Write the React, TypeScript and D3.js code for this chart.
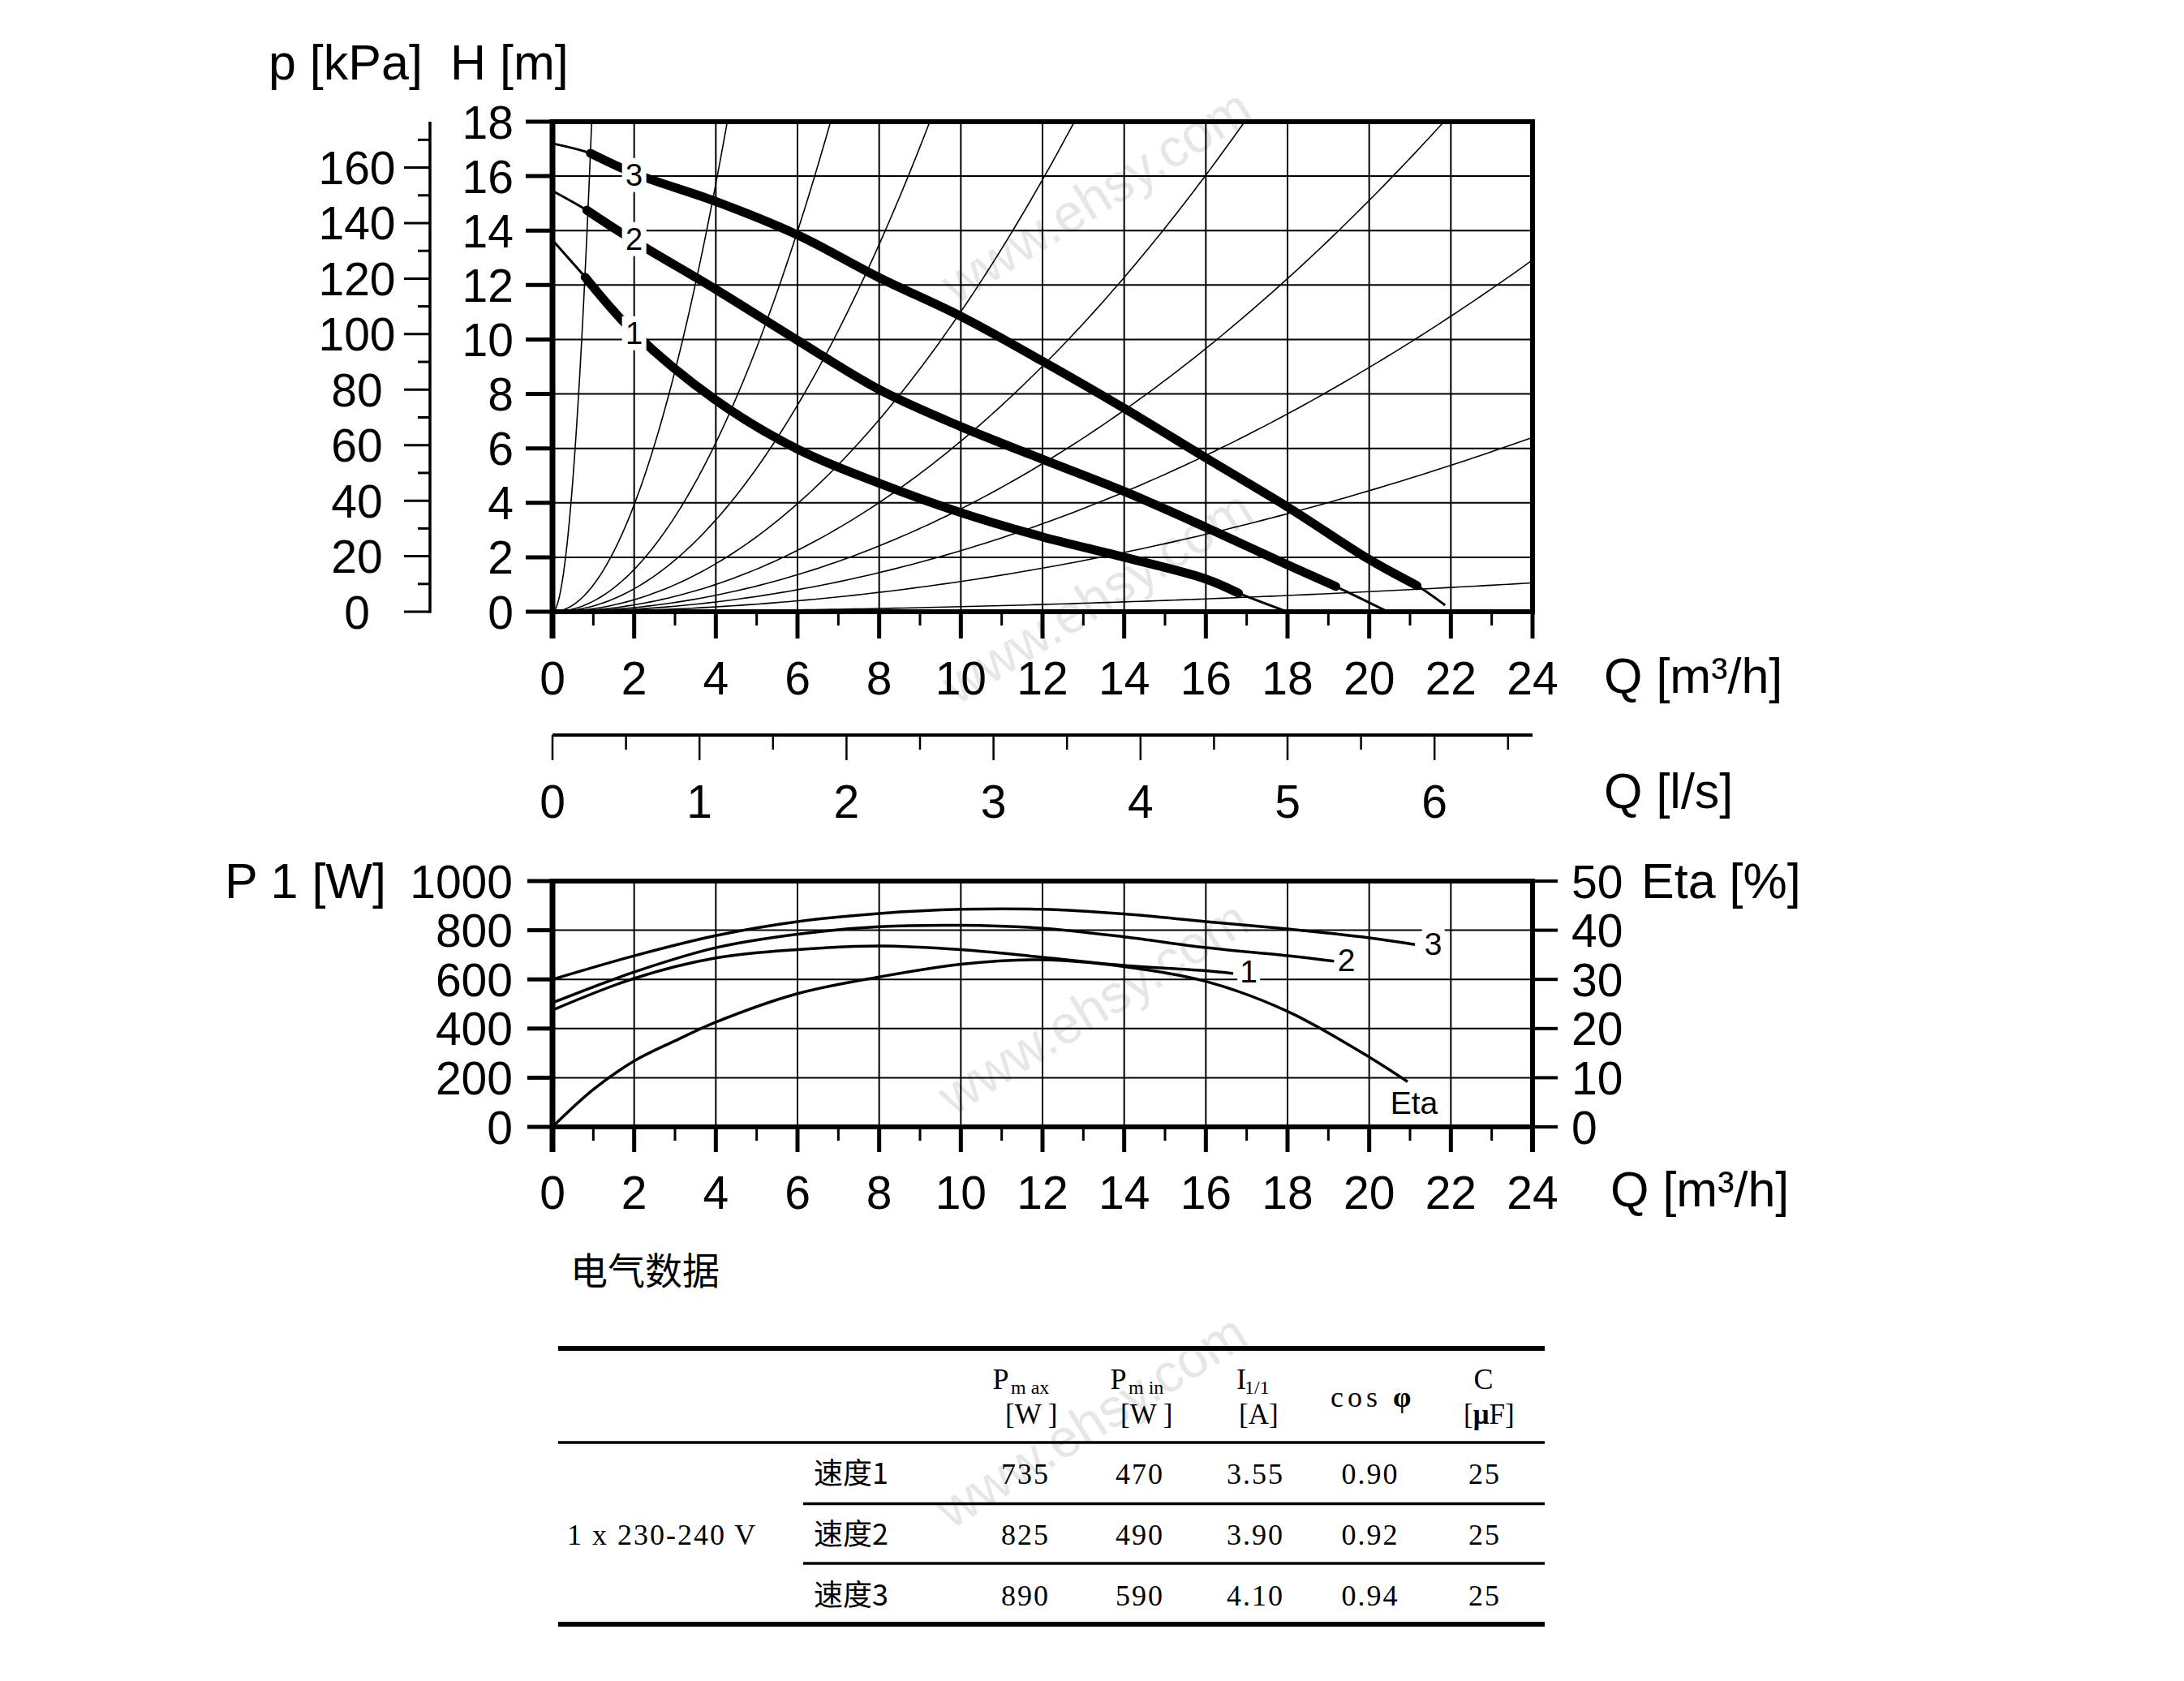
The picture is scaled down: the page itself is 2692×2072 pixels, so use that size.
import React from 'react';
import * as d3 from 'd3';

// ---------- data ----------
const qTickLabels = [0, 2, 4, 6, 8, 10, 12, 14, 16, 18, 20, 22, 24];
const headTickLabels = [0, 2, 4, 6, 8, 10, 12, 14, 16, 18];
const kpaTickLabels = [0, 20, 40, 60, 80, 100, 120, 140, 160];
const lsTickLabels = [0, 1, 2, 3, 4, 5, 6];
const powerTickLabels = [0, 200, 400, 600, 800, 1000];
const etaTickLabels = [0, 10, 20, 30, 40, 50];

// pump curves H(Q), Q in m3/h, H in m
const head1: [number, number][] = [[0, 13.65], [0.8, 12.29], [2, 10.25], [4, 7.77], [6, 5.97], [8, 4.72], [10, 3.64], [12, 2.75], [14, 2.0], [16, 1.2], [16.8, 0.68], [17.92, 0.04]];
const head2: [number, number][] = [[0, 15.46], [0.84, 14.75], [2, 13.62], [4, 11.84], [6, 9.97], [8, 8.16], [10, 6.8], [12, 5.6], [14, 4.42], [16, 3.1], [18, 1.72], [19.18, 0.93], [20.4, 0.04]];
const head3: [number, number][] = [[0, 17.2], [0.93, 16.84], [2, 16.1], [4, 15.07], [6, 13.84], [8, 12.27], [10, 10.85], [12, 9.2], [14, 7.47], [16, 5.65], [18, 3.85], [20, 1.92], [21.17, 0.96], [21.86, 0.24]];
const boldRanges: [number, number][] = [[0.8, 16.8], [0.84, 19.18], [0.93, 21.17]];
const headLabels = ['1', '2', '3'];
const headLabelPos: [number, number][] = [[2, 10.23], [2, 13.69], [2, 16.04]];

// system curves: point where each parabola leaves the frame [Q, H]
const systemCurveEnds: [number, number][] = [[0.96, 18], [4.28, 18], [6.81, 18], [9.24, 18], [12.78, 18], [16.95, 18], [21.83, 18], [24, 12.92], [24, 6.4], [24, 1.06]];

// power P1(Q) in W
const power1: [number, number][] = [[0, 475], [2, 604], [4, 687], [6, 721], [8, 736], [10, 721], [12, 690], [14, 657], [16, 635], [16.67, 624]];
const power2: [number, number][] = [[0, 505], [2, 630], [4, 729], [6, 784], [8, 814], [10, 820], [12, 808], [14, 773], [16, 729], [18, 696], [19.14, 674]];
const power3: [number, number][] = [[0, 600], [2, 696], [4, 778], [6, 835], [8, 868], [10, 885], [12, 885], [14, 866], [16, 835], [18, 805], [20, 769], [21.12, 742]];
// efficiency Eta(Q) in %
const etaCurve: [number, number][] = [[0, 0], [1, 7.6], [2, 13.4], [3, 17.5], [4, 21.3], [6, 27.1], [8, 30.5], [10, 33.1], [12, 34.0], [14, 32.6], [16, 29.6], [18, 23.5], [20, 14.2], [20.94, 9.2]];
const powerLabelPos: [number, number][] = [[17.05, 635], [19.44, 681], [21.57, 747]];

// electrical table
const tableTitle = '电气数据';
const voltageLabel = '1 x 230-240 V';
const speedLabels = ['速度1', '速度2', '速度3'];
const pMax = ['735', '825', '890'];
const pMin = ['470', '490', '590'];
const current = ['3.55', '3.90', '4.10'];
const cosPhi = ['0.90', '0.92', '0.94'];
const capacitance = ['25', '25', '25'];

// ---------- component ----------
const SANS = '"Liberation Sans", Arial, sans-serif';
const SERIF = '"Liberation Serif", "Times New Roman", serif';
const CJK = '"Noto Sans CJK SC", sans-serif';

export default function App() {
  const W = 2692, H = 2072;
  const x = d3.scaleLinear().domain([0, 24]).range([681, 1889]);
  const yH = d3.scaleLinear().domain([0, 18]).range([754, 150]);
  const yP = d3.scaleLinear().domain([0, 1000]).range([1389, 1086]);
  const yEta = d3.scaleLinear().domain([0, 50]).range([1389, 1086]);
  const KPA_PER_M = 9.807;
  const M3H_PER_LS = 3.6;
  const yKpa = (k: number) => yH(k / KPA_PER_M);
  const xLs = (l: number) => x(l * M3H_PER_LS);

  const smooth = d3.curveCatmullRom.alpha(0.5);
  const lineH = d3.line<[number, number]>().x(d => x(d[0])).y(d => yH(d[1])).curve(smooth);
  const lineP = d3.line<[number, number]>().x(d => x(d[0])).y(d => yP(d[1])).curve(smooth);
  const lineE = d3.line<[number, number]>().x(d => x(d[0])).y(d => yEta(d[1])).curve(smooth);
  const lineLin = d3.line<[number, number]>().x(d => x(d[0])).y(d => yH(d[1]));

  const heads = [head1, head2, head3];
  const powers = [power1, power2, power3];

  const systemPaths = systemCurveEnds.map(([qe, he]) => {
    const k = he / (qe * qe);
    const pts: [number, number][] = d3.range(0, 121).map(i => {
      const q = (qe * i) / 120;
      return [q, k * q * q];
    });
    return lineLin(pts) as string;
  });

  const qAll = d3.range(0, 25);
  const gridQ = d3.range(2, 24, 2);
  const gridH = d3.range(2, 18, 2);
  const gridP = d3.range(200, 1000, 200);
  const kpaAll = d3.range(0, 180, 10);
  const lsAll = d3.range(0, 6.6, 0.5);

  const tickFont = 57;
  const titleFont = 61;
  const capHalf = 20.5;

  const watermarks: [number, number][] = [[1354, 246], [1355, 740], [1350, 1246], [1348, 1756]];

  const colX = [1263, 1404, 1546.5, 1688, 1829];
  const rowY = [1828.6, 1903.6, 1978.6];
  const subY = 1718;
  const unitY = 1755;

  return (
    <svg width={W} height={H} viewBox={`0 0 ${W} ${H}`} style={{ position: 'absolute', left: 0, top: 0, background: '#fff' }}
      xmlns="http://www.w3.org/2000/svg">
      <rect x={0} y={0} width={W} height={H} fill="#fff" />
      {/* watermark */}
      {watermarks.map(([cx, cy], i) => (
        <text key={'wm' + i} x={cx} y={cy} fontFamily={SANS} fontSize={66} fill="#e6e6e6" textAnchor="middle"
          dominantBaseline="middle" transform={`rotate(-32 ${cx} ${cy})`}>www.ehsy.com</text>
      ))}

      {/* ================= TOP CHART ================= */}
      <g>
        {gridQ.map(q => <line key={'gq' + q} x1={x(q)} x2={x(q)} y1={yH(0)} y2={yH(18)} stroke="#000" strokeWidth={2} />)}
        {gridH.map(h => <line key={'gh' + h} x1={x(0)} x2={x(24)} y1={yH(h)} y2={yH(h)} stroke="#000" strokeWidth={2} />)}
        {systemPaths.map((d, i) => <path key={'sys' + i} d={d} fill="none" stroke="#000" strokeWidth={1.6} />)}
        {heads.map((h, i) => (
          <path key={'ht' + i} d={lineH(h) as string} fill="none" stroke="#000" strokeWidth={3} />
        ))}
        {heads.map((h, i) => {
          const [a, b] = boldRanges[i];
          const pts = h.filter(p => p[0] >= a - 1e-6 && p[0] <= b + 1e-6);
          return <path key={'hb' + i} d={lineH(pts) as string} fill="none" stroke="#000" strokeWidth={11} strokeLinecap="round" strokeLinejoin="round" />;
        })}
        {headLabels.map((t, i) => {
          const cx = x(headLabelPos[i][0]);
          const cy = yH(headLabelPos[i][1]);
          return (
            <g key={'hl' + i}>
              <rect x={cx - 15} y={cy - 21} width={30} height={42} fill="#fff" />
              <text x={cx} y={cy + 13.5} fontFamily={SANS} fontSize={38} textAnchor="middle">{t}</text>
            </g>
          );
        })}
        {/* frame */}
        <line x1={x(0) - 3} x2={x(24) + 3} y1={yH(18)} y2={yH(18)} stroke="#000" strokeWidth={6} />
        <line x1={x(24)} x2={x(24)} y1={yH(18)} y2={yH(0)} stroke="#000" strokeWidth={6} />
        <line x1={x(0)} x2={x(24) + 3} y1={yH(0)} y2={yH(0)} stroke="#000" strokeWidth={6} />
        <line x1={x(0)} x2={x(0)} y1={yH(18) - 3} y2={yH(0) + 33} stroke="#000" strokeWidth={7} />
        {/* x ticks */}
        {qAll.map(q => (
          <line key={'tq' + q} x1={x(q)} x2={x(q)} y1={yH(0)} y2={yH(0) + (q % 2 === 0 ? 33 : 17)} stroke="#000" strokeWidth={q % 2 === 0 ? 5 : 3} />
        ))}
        {qTickLabels.map(q => (
          <text key={'lq' + q} x={x(q)} y={856} fontFamily={SANS} fontSize={tickFont} textAnchor="middle">{q}</text>
        ))}
        <text x={1977} y={854} fontFamily={SANS} fontSize={titleFont}>Q [m³/h]</text>
        {/* H axis */}
        {headTickLabels.map(h => (
          <g key={'th' + h}>
            <line x1={x(0) - 33} x2={x(0)} y1={yH(h)} y2={yH(h)} stroke="#000" strokeWidth={5} />
            <text x={633} y={yH(h) + capHalf} fontFamily={SANS} fontSize={tickFont} textAnchor="end">{h}</text>
          </g>
        ))}
        {/* kPa axis */}
        <line x1={530} x2={530} y1={yH(18)} y2={yKpa(0) + 1.5} stroke="#000" strokeWidth={3.5} />
        {kpaAll.map(k => (
          <line key={'tk' + k} x1={k % 20 === 0 ? 498 : 515} x2={531} y1={yKpa(k)} y2={yKpa(k)} stroke="#000" strokeWidth={3} />
        ))}
        {kpaTickLabels.map(k => (
          <text key={'lk' + k} x={440} y={yKpa(k) + capHalf} fontFamily={SANS} fontSize={tickFont} textAnchor="middle">{k}</text>
        ))}
        <text x={331} y={98} fontFamily={SANS} fontSize={titleFont}>p [kPa]</text>
        <text x={555} y={98} fontFamily={SANS} fontSize={titleFont}>H [m]</text>
      </g>

      {/* ================= l/s AXIS ================= */}
      <g>
        <line x1={x(0)} x2={x(24)} y1={906} y2={906} stroke="#000" strokeWidth={4} />
        {lsAll.map(l => (
          <line key={'tl' + l} x1={xLs(l)} x2={xLs(l)} y1={906} y2={Number.isInteger(l) ? 937 : 924} stroke="#000" strokeWidth={2.5} />
        ))}
        {lsTickLabels.map(l => (
          <text key={'ll' + l} x={xLs(l)} y={1008} fontFamily={SANS} fontSize={tickFont} textAnchor="middle">{l}</text>
        ))}
        <text x={1977} y={996} fontFamily={SANS} fontSize={titleFont}>Q [l/s]</text>
      </g>

      {/* ================= BOTTOM CHART ================= */}
      <g>
        {gridQ.map(q => <line key={'bgq' + q} x1={x(q)} x2={x(q)} y1={yP(0)} y2={yP(1000)} stroke="#000" strokeWidth={2} />)}
        {gridP.map(p => <line key={'bgp' + p} x1={x(0)} x2={x(24)} y1={yP(p)} y2={yP(p)} stroke="#000" strokeWidth={2} />)}
        {powers.map((p, i) => (
          <path key={'pw' + i} d={lineP(p) as string} fill="none" stroke="#000" strokeWidth={3.5} strokeLinejoin="round" />
        ))}
        <path d={lineE(etaCurve) as string} fill="none" stroke="#000" strokeWidth={3.5} />
        {headLabels.map((t, i) => {
          const cx = x(powerLabelPos[i][0]);
          const cy = yP(powerLabelPos[i][1]);
          return (
            <g key={'pl' + i}>
              <rect x={cx - 14} y={cy - 19} width={28} height={38} fill="#fff" />
              <text x={cx} y={cy + 14} fontFamily={SANS} fontSize={39} textAnchor="middle">{t}</text>
            </g>
          );
        })}
        <text x={x(21.1)} y={yEta(2.6)} fontFamily={SANS} fontSize={39} textAnchor="middle">Eta</text>
        {/* frame */}
        <line x1={x(0) - 3} x2={x(24) + 3} y1={yP(1000)} y2={yP(1000)} stroke="#000" strokeWidth={6} />
        <line x1={x(0)} x2={x(24) + 3} y1={yP(0)} y2={yP(0)} stroke="#000" strokeWidth={6} />
        <line x1={x(0)} x2={x(0)} y1={yP(1000) - 3} y2={yP(0) + 31} stroke="#000" strokeWidth={7} />
        <line x1={x(24)} x2={x(24)} y1={yP(1000) - 3} y2={yP(0) + 31} stroke="#000" strokeWidth={6} />
        {qAll.map(q => (
          <line key={'btq' + q} x1={x(q)} x2={x(q)} y1={yP(0)} y2={yP(0) + (q % 2 === 0 ? 31 : 17)} stroke="#000" strokeWidth={q % 2 === 0 ? 5 : 3} />
        ))}
        {qTickLabels.map(q => (
          <text key={'blq' + q} x={x(q)} y={1490} fontFamily={SANS} fontSize={tickFont} textAnchor="middle">{q}</text>
        ))}
        <text x={1985} y={1487} fontFamily={SANS} fontSize={titleFont}>Q [m³/h]</text>
        {powerTickLabels.map(p => (
          <g key={'tp' + p}>
            <line x1={x(0) - 31} x2={x(0)} y1={yP(p)} y2={yP(p)} stroke="#000" strokeWidth={5} />
            <text x={632} y={yP(p) + capHalf} fontFamily={SANS} fontSize={tickFont} textAnchor="end">{p}</text>
          </g>
        ))}
        <text x={277} y={1107} fontFamily={SANS} fontSize={titleFont}>P 1 [W]</text>
        {etaTickLabels.map(e => (
          <g key={'te' + e}>
            <line x1={x(24)} x2={x(24) + 31} y1={yEta(e)} y2={yEta(e)} stroke="#000" strokeWidth={4} />
            <text x={1937} y={yEta(e) + capHalf} fontFamily={SANS} fontSize={tickFont}>{e}</text>
          </g>
        ))}
        <text x={2023} y={1107} fontFamily={SANS} fontSize={titleFont}>Eta [%]</text>
      </g>

      {/* ================= TABLE ================= */}
      <g>
        <text x={703} y={1583} fontFamily={CJK} fontSize={46}>{tableTitle}</text>
        <line x1={688} x2={1904} y1={1662} y2={1662} stroke="#000" strokeWidth={6} />
        <line x1={688} x2={1904} y1={1778} y2={1778} stroke="#000" strokeWidth={3.5} />
        <line x1={990} x2={1904} y1={1853.5} y2={1853.5} stroke="#000" strokeWidth={3.5} />
        <line x1={990} x2={1904} y1={1927} y2={1927} stroke="#000" strokeWidth={3.5} />
        <line x1={688} x2={1904} y1={2002} y2={2002} stroke="#000" strokeWidth={6} />
        {/* header */}
        <g fontFamily={SERIF} fill="#000">
          <text x={1223.6} y={1712} fontSize={36}>P<tspan x={1246} y={subY} fontSize={24}>m ax</tspan></text>
          <text x={1239} y={unitY} fontSize={35}>[W ]</text>
          <text x={1368.5} y={1712} fontSize={36}>P<tspan x={1391} y={subY} fontSize={24}>m in</tspan></text>
          <text x={1381} y={unitY} fontSize={35}>[W ]</text>
          <text x={1524} y={1712} fontSize={36}>I<tspan x={1534} y={subY} fontSize={24}>1/1</tspan></text>
          <text x={1527} y={unitY} fontSize={35}>[A]</text>
          <text x={1640} y={1734} fontSize={36} letterSpacing={5}>cos <tspan fontWeight="bold">φ</tspan></text>
          <text x={1816.6} y={1712} fontSize={36}>C</text>
          <text x={1804} y={unitY} fontSize={35}>[<tspan fontWeight="bold">μ</tspan>F]</text>
        </g>
        <text x={699} y={1903.6} fontFamily={SERIF} fontSize={36} letterSpacing={2}>{voltageLabel}</text>
        {speedLabels.map((s, i) => (
          <text key={'sp' + i} x={1003} y={rowY[i]} fontFamily={CJK} fontSize={36}>{s}</text>
        ))}
        {[pMax, pMin, current, cosPhi, capacitance].map((col, ci) =>
          col.map((v, ri) => (
            <text key={'c' + ci + '_' + ri} x={colX[ci] + 1} y={rowY[ri]} fontFamily={SERIF} fontSize={36} letterSpacing={2} textAnchor="middle">{v}</text>
          ))
        )}
      </g>
    </svg>
  );
}
